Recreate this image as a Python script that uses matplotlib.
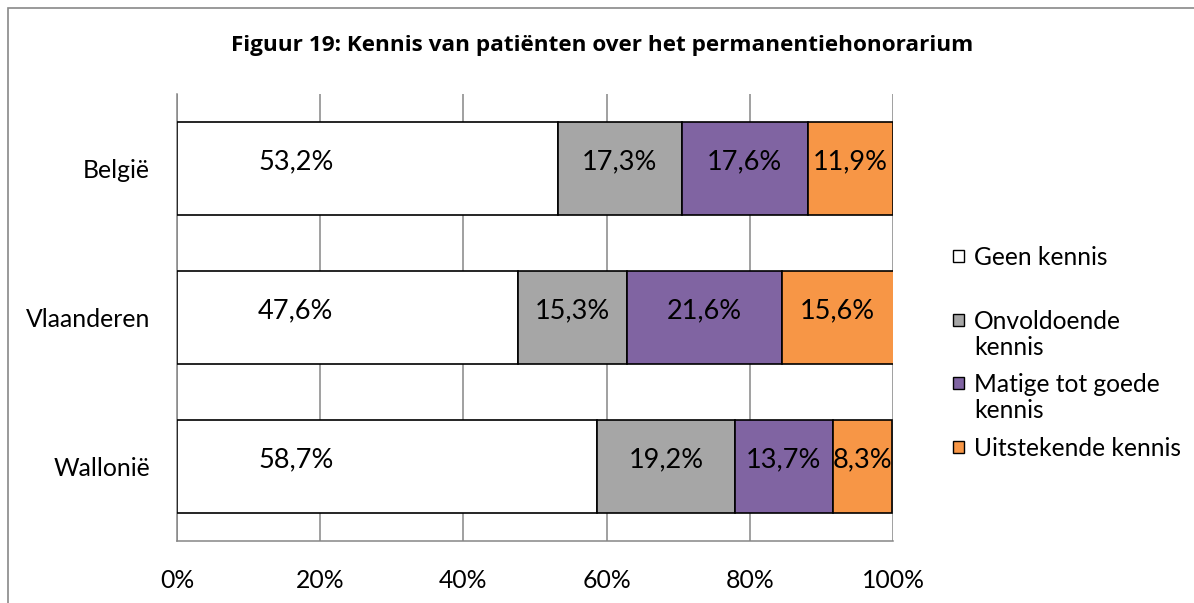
import matplotlib
matplotlib.use("Agg")
import matplotlib.pyplot as plt
from matplotlib.patches import Rectangle

plt.rcParams["font.family"] = ["Lato", "DejaVu Sans"]

regions = ["België", "Vlaanderen", "Wallonië"]
series = ["Geen kennis", "Onvoldoende\nkennis", "Matige tot goede\nkennis", "Uitstekende kennis"]
values = [
    [53.2, 47.6, 58.7],   # Geen kennis
    [17.3, 15.3, 19.2],   # Onvoldoende kennis
    [17.6, 21.6, 13.7],   # Matige tot goede kennis
    [11.9, 15.6, 8.3],    # Uitstekende kennis
]
colors = ["#FFFFFF", "#A6A6A6", "#8064A2", "#F79646"]
xticks = [0, 20, 40, 60, 80, 100]
title = "Figuur 19: Kennis van patiënten over het permanentiehonorarium"

fig = plt.figure(figsize=(11.94, 6.03), dpi=100)
ax = fig.add_axes([0.1482, 0.1028, 0.5997, 0.7413])

ypos = list(range(len(regions)))
left = [0.0] * len(regions)
for i, (vals, col) in enumerate(zip(values, colors)):
    ax.barh(ypos, vals, left=left, height=0.63, color=col,
            edgecolor="black", linewidth=1.2, zorder=3)
    for y, v, l in zip(ypos, vals, left):
        # first segment labels sit at a fixed spot, like the original
        x = 16.6 if i == 0 else l + v / 2
        ax.text(x, y - 0.045, f"{v:.1f}%".replace(".", ","), ha="center",
                va="center", fontsize=19.5, color="black", zorder=4)
    left = [l + v for l, v in zip(left, vals)]

ax.set_xlim(0, 100)
ax.set_ylim(2.5, -0.5)
ax.set_yticks(ypos)
ax.set_yticklabels(regions, fontsize=17.8)
ax.set_xticks(xticks)
ax.set_xticklabels([f"{t}%" for t in xticks], fontsize=17.8)
ax.tick_params(axis="y", length=0, pad=19.5)
ax.tick_params(axis="x", length=0, pad=20)
ax.grid(axis="x", color="#868686", linewidth=1.1, zorder=0)
for s in ["top", "right"]:
    ax.spines[s].set_visible(False)
for s in ["left", "bottom"]:
    ax.spines[s].set_color("#868686")
    ax.spines[s].set_linewidth(1.1)
    ax.spines[s].set_zorder(1)

fig.text(0.504, 0.924, title, ha="center", va="center", fontsize=16.2,
         fontweight="bold", family=["Open Sans", "DejaVu Sans"])

# legend drawn by hand so the wrapped labels match the original spacing
leg_y = [256, 320, 383, 447]
W, H = 1194, 603
for lab, col, y in zip(series, colors, leg_y):
    fig.patches.append(Rectangle((953 / W, 1 - (y + 6) / H), 11 / W, 12 / H,
                                 transform=fig.transFigure, facecolor=col,
                                 edgecolor="black", linewidth=1.0))
    fig.text(974 / W, 1 - (y - 10) / H, lab, ha="left", va="top",
             fontsize=17.7, linespacing=1.17)

# outer chart frame
fig.patches.append(Rectangle((8 / W, -0.5), 1.5, 1 - 8 / H + 0.5,
                             transform=fig.transFigure, facecolor="none",
                             edgecolor="#898989", linewidth=1.2))

fig.savefig("out.png", dpi=100)
